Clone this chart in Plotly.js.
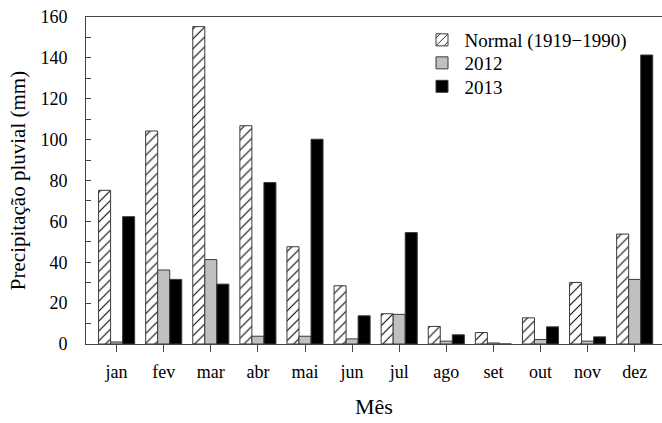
<!DOCTYPE html>
<html>
<head>
<meta charset="utf-8">
<script src="https://cdn.plot.ly/plotly-3.0.1.min.js"></script>
<style>html,body{margin:0;padding:0;background:#fff;}#chart{width:662px;height:423px;}</style>
</head>
<body>
<div id="chart"></div>
<script>
const months = ["jan","fev","mar","abr","mai","jun","jul","ago","set","out","nov","dez"];
const normal = [75.2, 104.2, 155.3, 106.8, 47.6, 28.5, 14.8, 8.6, 5.6, 12.8, 30.1, 53.8];
const y2012 = [1.0, 36.2, 41.3, 3.8, 3.8, 2.5, 14.5, 1.4, 0.5, 2.2, 1.4, 31.6];
const y2013 = [62.3, 31.6, 29.3, 79.0, 100.2, 13.8, 54.5, 4.5, 0, 8.4, 3.5, 141.4];
const seriesNames = ["Normal (1919\u22121990)", "2012", "2013"];

const serif = "Liberation Serif";
const edge = {color: "#3a3a3a", width: 1};

const traces = [
  {type: "bar", name: seriesNames[0], x: months, y: normal, legend: "legend",
   marker: {color: "#ffffff", line: edge,
            pattern: {shape: "/", fgcolor: "#000000", bgcolor: "#ffffff", size: 7, solidity: 0.15}}},
  {type: "bar", name: seriesNames[1], x: months, y: y2012, legend: "legend2",
   marker: {color: "#c0c0c0", line: edge}},
  {type: "bar", name: seriesNames[2], x: months, y: y2013, legend: "legend3",
   marker: {color: "#000000", line: edge}}
];

function leg(yp) {
  return {x: 0.579, y: yp, xanchor: "left", yanchor: "middle",
          font: {family: serif, size: 19}, bgcolor: "rgba(0,0,0,0)",
          itemwidth: 35, borderwidth: 0};
}

const layout = {
  width: 662, height: 423,
  margin: {l: 86, r: 0, t: 17, b: 79},
  paper_bgcolor: "#ffffff", plot_bgcolor: "#ffffff",
  font: {family: serif, color: "#000000", size: 18},
  barmode: "group", bargap: 0.234, bargroupgap: 0,
  showlegend: true,
  legend: leg(0.9297),
  legend2: leg(0.8593),
  legend3: leg(0.7875),
  xaxis: {
    type: "category", range: [-0.65, 11.58],
    showline: true, linecolor: "#444", linewidth: 1, mirror: true,
    ticks: "outside", ticklen: 7, tickcolor: "#444",
    showgrid: false, zeroline: false,
    ticklabelstandoff: 4,
    tickfont: {family: serif, size: 18},
    title: {text: "Mês", font: {family: serif, size: 22}, standoff: 18}
  },
  yaxis: {
    range: [0, 160], dtick: 20,
    showline: true, linecolor: "#444", linewidth: 1, mirror: false,
    ticks: "inside", ticklen: 5, tickcolor: "#444",
    minor: {dtick: 10, ticks: "inside", ticklen: 5, tickcolor: "#444"},
    showgrid: false, zeroline: false,
    ticklabelstandoff: 14,
    tickfont: {family: serif, size: 18},
    title: {text: "Precipitação pluvial (mm)", font: {family: serif, size: 21}, standoff: 9}
  }
};

Plotly.newPlot("chart", traces, layout, {displayModeBar: false, staticPlot: true});
</script>
</body>
</html>
